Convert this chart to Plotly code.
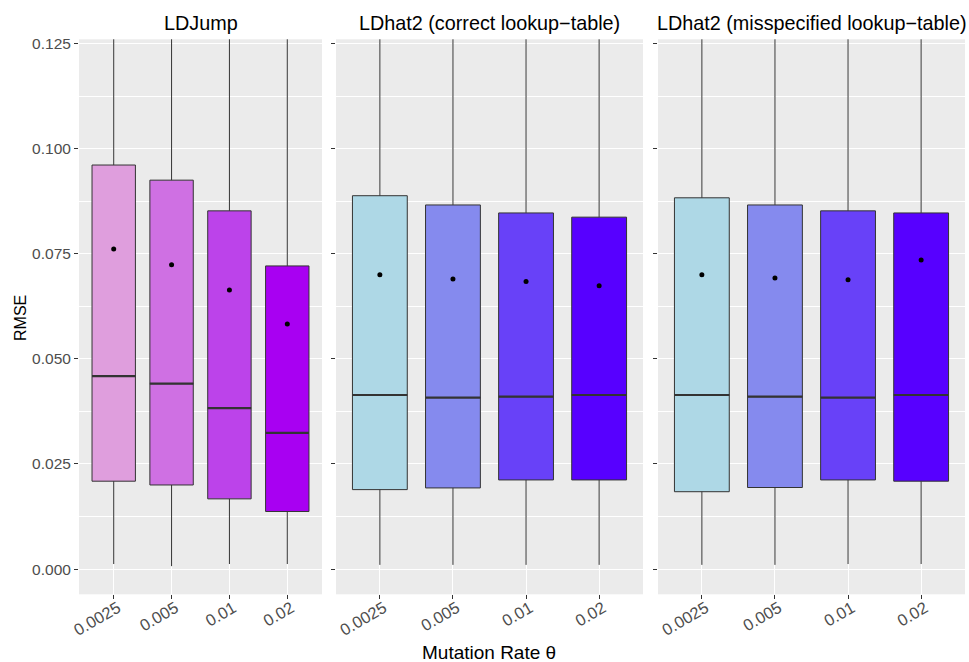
import plotly.graph_objects as go

# Mutation rates (categories on the x axis)
rates = ["0.0025", "0.005", "0.01", "0.02"]
panel_titles = ["LDJump", "LDhat2 (correct lookup\u2212table)", "LDhat2 (misspecified lookup\u2212table)"]

# Box statistics of the RMSE per method and mutation rate
ldjump_low = [0.0012, 0.0007, 0.0012, 0.0012]
ldjump_q1 = [0.0209, 0.0200, 0.0167, 0.0137]
ldjump_median = [0.0459, 0.0441, 0.0383, 0.0324]
ldjump_q3 = [0.0961, 0.0925, 0.0852, 0.0721]
ldjump_high = [0.205, 0.200, 0.190, 0.160]
ldjump_mean = [0.0761, 0.0724, 0.0664, 0.0583]

correct_low = [0.0010, 0.0010, 0.0010, 0.0010]
correct_q1 = [0.0189, 0.0193, 0.0212, 0.0212]
correct_median = [0.0414, 0.0408, 0.0410, 0.0414]
correct_q3 = [0.0888, 0.0866, 0.0847, 0.0837]
correct_high = [0.190, 0.185, 0.180, 0.178]
correct_mean = [0.0700, 0.0690, 0.0684, 0.0674]

miss_low = [0.0010, 0.0010, 0.0012, 0.0012]
miss_q1 = [0.0184, 0.0194, 0.0212, 0.0209]
miss_median = [0.0414, 0.0410, 0.0408, 0.0414]
miss_q3 = [0.0883, 0.0866, 0.0852, 0.0847]
miss_high = [0.190, 0.185, 0.180, 0.180]
miss_mean = [0.0700, 0.0692, 0.0688, 0.0735]

# Fill colours per panel
ldjump_colors = ["#DF9EDD", "#CF70E3", "#BC43EA", "#A800F2"]
ldhat_colors = ["#AED8E6", "#858AEE", "#6841F8", "#5700FF"]

panels = [
    (ldjump_low, ldjump_q1, ldjump_median, ldjump_q3, ldjump_high, ldjump_mean, ldjump_colors),
    (correct_low, correct_q1, correct_median, correct_q3, correct_high, correct_mean, ldhat_colors),
    (miss_low, miss_q1, miss_median, miss_q3, miss_high, miss_mean, ldhat_colors),
]

W, H = 969, 662
FONT = "Liberation Sans, Arial, sans-serif"
BOX_W = 0.75
OUTLINE = "#333333"

# Panel extents in pixels
panel_x = [(79, 322), (336, 643), (658, 965)]
panel_top, panel_bottom = 39.3, 594.3
ydom = [1 - panel_bottom / H, 1 - panel_top / H]

fig = go.Figure()

for p, (low, q1, med, q3, high, mean, cols) in enumerate(panels):
    xa = "x" if p == 0 else f"x{p + 1}"
    ya = "y" if p == 0 else f"y{p + 1}"
    for i in range(len(rates)):
        fig.add_trace(go.Box(
            x=[i], q1=[q1[i]], median=[med[i]], q3=[q3[i]],
            lowerfence=[low[i]], upperfence=[high[i]],
            width=BOX_W, whiskerwidth=0, fillcolor=cols[i],
            line=dict(color=OUTLINE, width=1),
            boxpoints=False, showlegend=False, hoverinfo="skip",
            xaxis=xa, yaxis=ya,
        ))
        # thicker median bar
        fig.add_trace(go.Scatter(
            x=[i - BOX_W / 2, i + BOX_W / 2], y=[med[i], med[i]],
            mode="lines", line=dict(color=OUTLINE, width=2.2),
            showlegend=False, hoverinfo="skip", xaxis=xa, yaxis=ya,
        ))
    # mean points
    fig.add_trace(go.Scatter(
        x=list(range(len(rates))), y=mean, mode="markers",
        marker=dict(color="black", size=5),
        showlegend=False, hoverinfo="skip", xaxis=xa, yaxis=ya,
    ))

layout = dict(
    width=W, height=H,
    margin=dict(l=0, r=0, t=0, b=0),
    paper_bgcolor="white", plot_bgcolor="#EBEBEB",
    boxmode="overlay",
    font=dict(family=FONT, color="#4D4D4D"),
)

for p, (x0, x1) in enumerate(panel_x):
    suffix = "" if p == 0 else str(p + 1)
    layout["xaxis" + suffix] = dict(
        domain=[x0 / W, x1 / W], anchor="y" + suffix,
        range=[-0.6, len(rates) - 0.4],
        tickmode="array", tickvals=list(range(len(rates))), ticktext=rates,
        tickangle=-30, tickfont=dict(size=16.5, color="#4D4D4D", family=FONT),
        ticklabelstandoff=-7, ticklabelshift=4,
        ticks="outside", ticklen=4, tickcolor=OUTLINE, tickwidth=1,
        showgrid=True, gridcolor="white", gridwidth=1.2,
        zeroline=False, showline=False, automargin=False, fixedrange=True,
    )
    layout["yaxis" + suffix] = dict(
        domain=ydom, anchor="x" + suffix,
        range=[-0.006, 0.126],
        tickmode="array", tickvals=[0, 0.025, 0.05, 0.075, 0.1, 0.125],
        ticktext=["0.000", "0.025", "0.050", "0.075", "0.100", "0.125"],
        showticklabels=(p == 0),
        tickfont=dict(size=15.5, color="#4D4D4D", family=FONT),
        ticks="outside", ticklen=4, tickcolor=OUTLINE, tickwidth=1,
        showgrid=True, gridcolor="white", gridwidth=1.2,
        minor=dict(tickmode="array",
                   tickvals=[0.0125, 0.0375, 0.0625, 0.0875, 0.1125],
                   showgrid=True, gridcolor="white", gridwidth=0.6, ticks=""),
        zeroline=False, showline=False, automargin=False, fixedrange=True,
    )

annotations = []
for p, (x0, x1) in enumerate(panel_x):
    annotations.append(dict(
        text=panel_titles[p], x=(x0 + x1) / 2 / W, y=1 - 23 / H,
        xref="paper", yref="paper", xanchor="center", yanchor="middle",
        showarrow=False, font=dict(size=19.8, color="black", family=FONT),
    ))
annotations.append(dict(
    text="Mutation Rate \u03b8", x=489 / W, y=1 - 652 / H,
    xref="paper", yref="paper", xanchor="center", yanchor="middle",
    showarrow=False, font=dict(size=19, color="black", family=FONT),
))
annotations.append(dict(
    text="RMSE", x=20 / W, y=1 - 318 / H, textangle=-90,
    xref="paper", yref="paper", xanchor="center", yanchor="middle",
    showarrow=False, font=dict(size=16, color="black", family=FONT),
))
layout["annotations"] = annotations

fig.update_layout(**layout)
fig.write_html("out.html")
